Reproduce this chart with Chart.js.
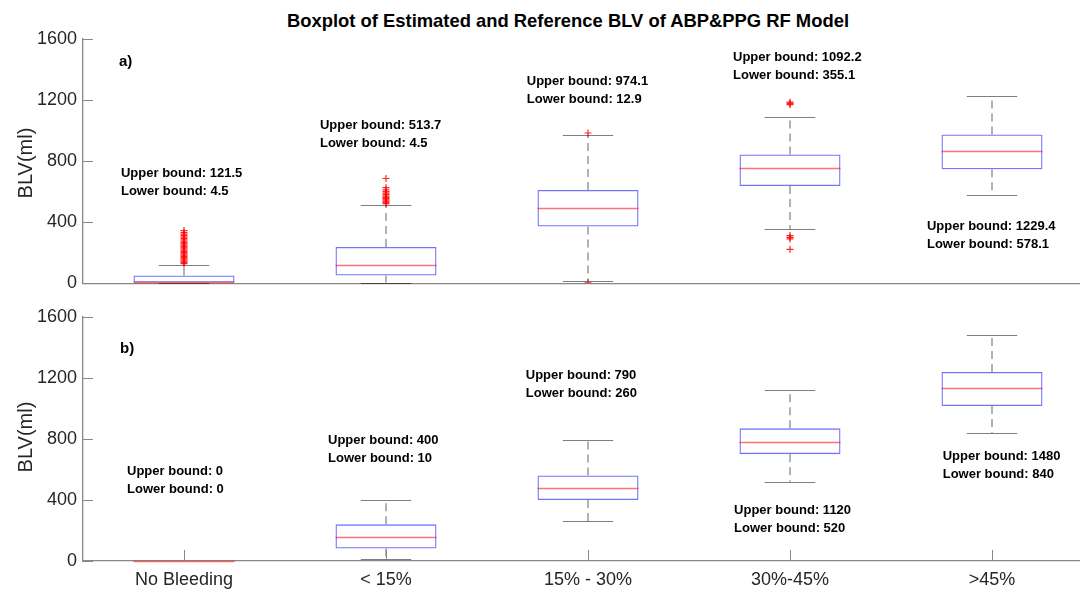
<!DOCTYPE html>
<html>
<head>
<meta charset="utf-8">
<script src="https://cdn.jsdelivr.net/npm/chart.js@4.4.0/dist/chart.umd.min.js"></script>
<style>
    html, body { margin: 0; padding: 0; background: #fff; overflow: hidden; }
    body { width: 1080px; height: 591px; position: relative; font-family: 'Liberation Sans', Arial, sans-serif; }
    #title { position: absolute; left: 0; width: 1136px; top: 10px; text-align: center;
             font-weight: bold; font-size: 18.4px; color: #000; }
    #topChart { position: absolute; left: 0; top: 0; }
    #bottomChart { position: absolute; left: 0; top: 300px; }
    .ylab { position: absolute; left: 25px; font-size: 20px; color: #262626;
            transform: translate(-50%, -50%) rotate(-90deg); white-space: nowrap; }
</style>
</head>
<body>
<div id="title">Boxplot of Estimated and Reference BLV of ABP&amp;PPG RF Model</div>
<canvas id="topChart" width="1100" height="300"></canvas>
<canvas id="bottomChart" width="1100" height="291"></canvas>
<div class="ylab" style="top:163px">BLV(ml)</div>
<div class="ylab" style="top:437px">BLV(ml)</div>
<script>
// categories
const categories = ['No Bleeding', '< 15%', '15% - 30%', '30%-45%', '>45%'];
const yTicks = [0, 400, 800, 1200, 1600];

// a) estimated BLV
const estLowerWhisker = [4.5, 4.5, 12.9, 355.1, 578.1];
const estQ1 = [4.5, 50, 371, 637, 747];
const estMedian = [11, 117, 490, 753, 868];
const estQ3 = [50, 238, 611, 844, 974];
const estUpperWhisker = [121.5, 513.7, 974.1, 1092.2, 1229.4];
const estOutliers = [
    [128, 136, 144, 152, 160, 168, 176, 184, 192, 200, 208, 216, 224, 232, 240,
     250, 258, 266, 275, 284, 293, 302, 312, 322, 332, 345],
    [522, 530, 538, 546, 554, 562, 570, 580, 590, 600, 611, 626, 686],
    [3, 984],
    [1170, 1178, 1186, 312, 300, 290, 222],
    []
];

// b) reference BLV
const refLowerWhisker = [0, 10, 260, 520, 840];
const refQ1 = [0, 82, 400, 700, 1016];
const refMedian = [0, 158, 480, 781, 1131];
const refQ3 = [0, 240, 560, 869, 1239];
const refUpperWhisker = [0, 400, 790, 1120, 1480];

// bound labels
const estBoundText = [
    ['Upper bound: 121.5', 'Lower bound: 4.5'],
    ['Upper bound: 513.7', 'Lower bound: 4.5'],
    ['Upper bound: 974.1', 'Lower bound: 12.9'],
    ['Upper bound: 1092.2', 'Lower bound: 355.1'],
    ['Upper bound: 1229.4', 'Lower bound: 578.1']
];
const refBoundText = [
    ['Upper bound: 0', 'Lower bound: 0'],
    ['Upper bound: 400', 'Lower bound: 10'],
    ['Upper bound: 790', 'Lower bound: 260'],
    ['Upper bound: 1120', 'Lower bound: 520'],
    ['Upper bound: 1480', 'Lower bound: 840']
];

// where each label sits, in axis units (x, y of first line)
const estTextAnchor = [[0.688, 719], [1.673, 1032], [2.697, 1321], [3.718, 1477], [4.678, 369]];
const refTextAnchor = [[0.718, 588], [1.713, 789], [2.692, 1215], [3.723, 333], [4.756, 685]];

const FONT = "'Liberation Sans', Arial, sans-serif";
const BOX_COLOR = 'rgba(0, 0, 255, 0.55)';
const MEDIAN_COLOR = 'rgba(255, 0, 0, 0.55)';
const WHISKER_COLOR = 'rgba(0, 0, 0, 0.5)';

/**
 * Whiskers, medians, inward ticks and bound labels
 */
function boxplotPlugin(stats, panelLetter, letterAnchor, texts, anchors, xTicksInward) {
    return {
        id: 'boxplotExtras',
        beforeDatasetsDraw(chart) {
            const { ctx } = chart;
            const x = chart.scales.x;
            const y = chart.scales.y;
            const capHalf = (x.getPixelForValue(1.125) - x.getPixelForValue(1));
            ctx.save();
            for (let i = 0; i < categories.length; i++) {
                const cx = x.getPixelForValue(i + 1);
                // dashed whiskers
                ctx.strokeStyle = WHISKER_COLOR;
                ctx.lineWidth = 1.2;
                ctx.setLineDash([8, 5]);
                ctx.beginPath();
                ctx.moveTo(cx, y.getPixelForValue(stats.q3[i]));
                ctx.lineTo(cx, y.getPixelForValue(stats.hi[i]));
                ctx.moveTo(cx, y.getPixelForValue(stats.q1[i]));
                ctx.lineTo(cx, y.getPixelForValue(stats.lo[i]));
                ctx.stroke();
                // caps
                ctx.setLineDash([]);
                if (stats.hi[i] !== stats.lo[i]) {
                    ctx.beginPath();
                    [stats.hi[i], stats.lo[i]].forEach(v => {
                        const py = Math.round(y.getPixelForValue(v)) + 0.5;
                        ctx.moveTo(cx - capHalf, py);
                        ctx.lineTo(cx + capHalf, py);
                    });
                    ctx.stroke();
                }
            }
            ctx.restore();
        },
        afterDatasetsDraw(chart) {
            const { ctx } = chart;
            const x = chart.scales.x;
            const y = chart.scales.y;
            const boxHalf = (x.getPixelForValue(1.25) - x.getPixelForValue(1));
            ctx.save();
            // medians
            ctx.strokeStyle = MEDIAN_COLOR;
            ctx.lineWidth = 1.3;
            for (let i = 0; i < categories.length; i++) {
                const cx = x.getPixelForValue(i + 1);
                const py = Math.round(y.getPixelForValue(stats.med[i])) + 0.5;
                ctx.beginPath();
                ctx.moveTo(cx - boxHalf, py);
                ctx.lineTo(cx + boxHalf, py);
                ctx.stroke();
            }
            // inward tick marks
            ctx.strokeStyle = '#888';
            ctx.lineWidth = 1;
            ctx.beginPath();
            yTicks.forEach(v => {
                const py = Math.round(y.getPixelForValue(v)) + 0.5;
                ctx.moveTo(chart.chartArea.left, py);
                ctx.lineTo(chart.chartArea.left + 10, py);
            });
            if (xTicksInward) {
                for (let i = 0; i < categories.length; i++) {
                    const px = Math.round(x.getPixelForValue(i + 1)) + 0.5;
                    ctx.moveTo(px, chart.chartArea.bottom);
                    ctx.lineTo(px, chart.chartArea.bottom - 11);
                }
            }
            ctx.stroke();
            // labels
            ctx.fillStyle = '#000';
            ctx.textBaseline = 'middle';
            ctx.textAlign = 'left';
            ctx.font = 'bold 15px ' + FONT;
            ctx.fillText(panelLetter, x.getPixelForValue(letterAnchor[0]), y.getPixelForValue(letterAnchor[1]));
            ctx.font = 'bold 13px ' + FONT;
            texts.forEach((lines, i) => {
                const px = x.getPixelForValue(anchors[i][0]);
                const py = y.getPixelForValue(anchors[i][1]);
                lines.forEach((t, k) => ctx.fillText(t, px, py + k * 18));
            });
            ctx.restore();
        }
    };
}

function makeOptions(showXLabels, topPad, bottomPad, xHeight) {
    return {
        responsive: false,
        animation: false,
        layout: { padding: { left: 0, right: 7, top: topPad, bottom: bottomPad } },
        plugins: { legend: { display: false }, tooltip: { enabled: false } },
        scales: {
            x: {
                type: 'linear',
                min: 0.5,
                max: 5.5,
                offset: false,
                afterBuildTicks: (scale) => { scale.ticks = categories.map((c, i) => ({ value: i + 1 })); },
                afterFit: (scale) => { scale.height = xHeight; },
                grid: { display: false, drawTicks: false, offset: false },
                border: { display: true, color: '#888', width: 1.3 },
                ticks: {
                    display: showXLabels,
                    padding: 8,
                    color: '#262626',
                    font: { family: FONT, size: 18 },
                    maxRotation: 0,
                    autoSkip: false,
                    callback: (v) => categories[Math.round(v) - 1]
                }
            },
            y: {
                min: 0,
                max: 1600,
                afterBuildTicks: (scale) => { scale.ticks = yTicks.map(v => ({ value: v })); },
                afterFit: (scale) => { scale.width = 83; },
                grid: { display: false, drawTicks: false },
                border: { display: true, color: '#888', width: 1.3 },
                ticks: {
                    padding: 6,
                    color: '#262626',
                    font: { family: FONT, size: 18 },
                    callback: (v) => String(v)
                }
            }
        }
    };
}

function makeDatasets(q1, q3, outliers) {
    const sets = [{
        type: 'bar',
        data: categories.map((c, i) => ({ x: i + 1, y: [q1[i], q3[i]] })),
        backgroundColor: 'rgba(0,0,0,0)',
        borderColor: BOX_COLOR,
        borderWidth: 1.3,
        borderSkipped: false,
        barPercentage: 0.5,
        categoryPercentage: 1
    }];
    if (outliers) {
        const pts = [];
        outliers.forEach((list, i) => list.forEach(v => pts.push({ x: i + 1, y: v })));
        sets.push({
            type: 'scatter',
            data: pts,
            pointStyle: 'cross',
            pointRadius: 3.5,
            borderColor: 'rgba(255, 0, 0, 0.85)',
            borderWidth: 1.2
        });
    }
    return sets;
}

new Chart(document.getElementById('topChart'), {
    type: 'bar',
    data: { datasets: makeDatasets(estQ1, estQ3, estOutliers) },
    options: makeOptions(false, 39, 14, 0),
    plugins: [boxplotPlugin(
        { lo: estLowerWhisker, q1: estQ1, med: estMedian, q3: estQ3, hi: estUpperWhisker },
        'a)', [0.678, 1451], estBoundText, estTextAnchor, false)]
});

new Chart(document.getElementById('bottomChart'), {
    type: 'bar',
    data: { datasets: makeDatasets(refQ1, refQ3, null) },
    options: makeOptions(true, 14, 0, 30),
    plugins: [boxplotPlugin(
        { lo: refLowerWhisker, q1: refQ1, med: refMedian, q3: refQ3, hi: refUpperWhisker },
        'b)', [0.683, 1392], refBoundText, refTextAnchor, true)]
});
</script>
</body>
</html>
